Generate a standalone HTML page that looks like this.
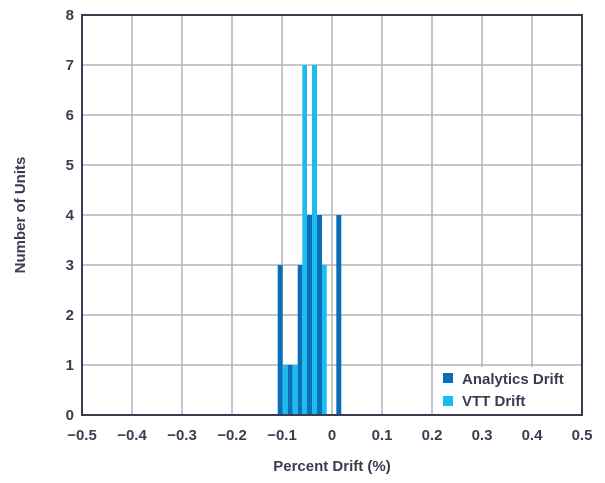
<!DOCTYPE html>
<html><head><style>
body{margin:0;background:#fff;}
</style></head><body>
<svg width="605" height="478" xmlns="http://www.w3.org/2000/svg" font-family="Liberation Sans, sans-serif" font-weight="bold" fill="#3a3d50">
<g stroke="#b4b4bc" stroke-width="1.5">
<line x1="132" y1="15" x2="132" y2="415"/><line x1="182" y1="15" x2="182" y2="415"/><line x1="232" y1="15" x2="232" y2="415"/><line x1="282" y1="15" x2="282" y2="415"/><line x1="332" y1="15" x2="332" y2="415"/><line x1="382" y1="15" x2="382" y2="415"/><line x1="432" y1="15" x2="432" y2="415"/><line x1="482" y1="15" x2="482" y2="415"/><line x1="532" y1="15" x2="532" y2="415"/>
<line x1="82" y1="65" x2="582" y2="65"/><line x1="82" y1="115" x2="582" y2="115"/><line x1="82" y1="165" x2="582" y2="165"/><line x1="82" y1="215" x2="582" y2="215"/><line x1="82" y1="265" x2="582" y2="265"/><line x1="82" y1="315" x2="582" y2="315"/><line x1="82" y1="365" x2="582" y2="365"/>
</g>
<g stroke="none">
<rect x="277.7" y="265" width="5" height="150" fill="#0a6fb7"/>
<rect x="282.7" y="365" width="5" height="50" fill="#19bdee"/>
<rect x="287.7" y="365" width="5" height="50" fill="#0a6fb7"/>
<rect x="292.7" y="365" width="5" height="50" fill="#19bdee"/>
<rect x="297.7" y="265" width="4.6" height="150" fill="#0a6fb7"/>
<rect x="302.3" y="65" width="4.7" height="350" fill="#19bdee"/>
<rect x="307" y="215" width="5" height="200" fill="#0a6fb7"/>
<rect x="312" y="65" width="5" height="350" fill="#19bdee"/>
<rect x="317" y="215" width="5" height="200" fill="#0a6fb7"/>
<rect x="322" y="265" width="4.7" height="150" fill="#19bdee"/>
<rect x="336.3" y="215" width="5" height="200" fill="#0a6fb7"/>
</g>
<rect x="433" y="367" width="149" height="47" fill="#fff"/>
<rect x="443" y="373" width="10" height="10" fill="#0a6fb7"/>
<rect x="443" y="396" width="10" height="10" fill="#19bdee"/>
<text x="462" y="384" font-size="15">Analytics Drift</text>
<text x="462" y="406" font-size="15">VTT Drift</text>
<rect x="82" y="15" width="500" height="400" fill="none" stroke="#3a3d50" stroke-width="2"/>
<g font-size="15" text-anchor="end">
<text x="74" y="20">8</text><text x="74" y="70">7</text><text x="74" y="120">6</text><text x="74" y="170">5</text><text x="74" y="220">4</text><text x="74" y="270">3</text><text x="74" y="320">2</text><text x="74" y="370">1</text><text x="74" y="420">0</text>
</g>
<g font-size="15" text-anchor="middle">
<text x="82" y="440">−0.5</text><text x="132" y="440">−0.4</text><text x="182" y="440">−0.3</text><text x="232" y="440">−0.2</text><text x="282" y="440">−0.1</text><text x="332" y="440">0</text><text x="382" y="440">0.1</text><text x="432" y="440">0.2</text><text x="482" y="440">0.3</text><text x="532" y="440">0.4</text><text x="582" y="440">0.5</text>
<text x="332" y="471" font-size="15">Percent Drift (%)</text>
<text transform="translate(25,215) rotate(-90)" font-size="15">Number of Units</text>
</g>
</svg>
</body></html>
